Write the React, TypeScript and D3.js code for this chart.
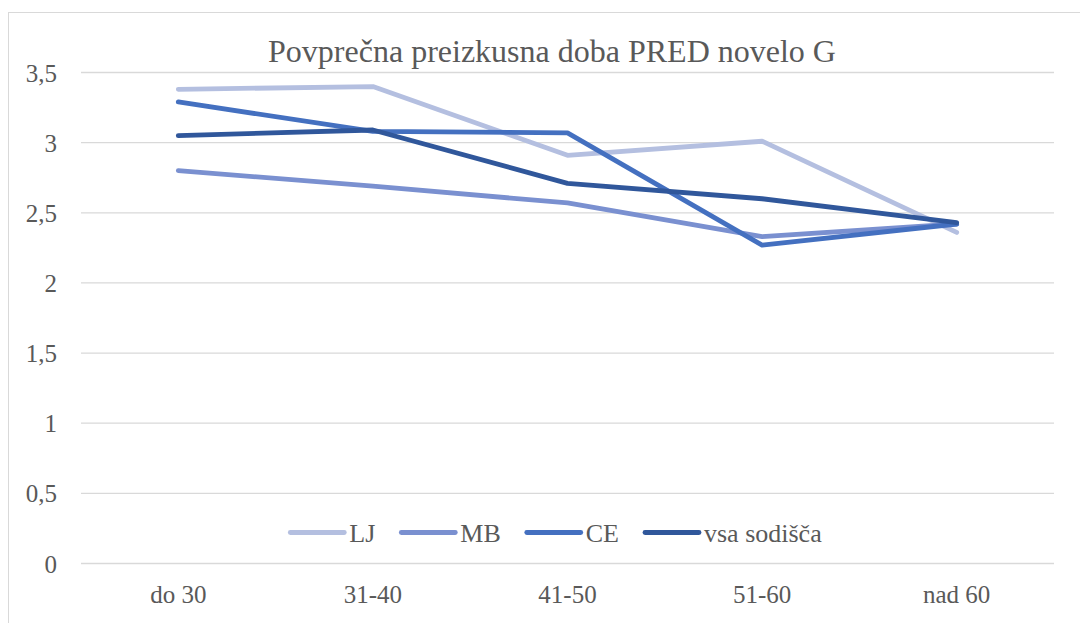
import React, { useEffect, useRef } from "react";
import * as d3 from "d3";

const categories = ["do 30", "31-40", "41-50", "51-60", "nad 60"];
const seriesNames = ["LJ", "MB", "CE", "vsa sodišča"];
const ljValues = [3.38, 3.4, 2.91, 3.01, 2.36];
const mbValues = [2.8, 2.69, 2.57, 2.33, 2.42];
const ceValues = [3.29, 3.08, 3.07, 2.27, 2.42];
const allValues = [3.05, 3.09, 2.71, 2.6, 2.43];
const yTicks = [0, 0.5, 1, 1.5, 2, 2.5, 3, 3.5];
const title = "Povprečna preizkusna doba PRED novelo G";

const colors = ["#b4bfe0", "#7a90d0", "#4470c0", "#30579b"];
const FONT = "Liberation Serif";
const TEXT = "#595959";

export default function App() {
  const ref = useRef<SVGSVGElement>(null);

  useEffect(() => {
    const svg = d3.select(ref.current);
    svg.selectAll("*").remove();

    const left = 81, right = 1054, top = 72.5, bottom = 563.5;

    const x = d3.scalePoint<string>().domain(categories).range([left, right]).padding(0.5);
    const y = d3.scaleLinear().domain([0, 3.5]).range([bottom, top]);

    // chart border
    svg.append("rect")
      .attr("x", 8.5).attr("y", 12.5).attr("width", 1090).attr("height", 640)
      .attr("fill", "#fff").attr("stroke", "#d9d9d9").attr("stroke-width", 1);

    // gridlines
    svg.append("g").selectAll("line").data(yTicks).join("line")
      .attr("x1", left).attr("x2", right)
      .attr("y1", d => y(d)).attr("y2", d => y(d))
      .attr("stroke", "#d9d9d9").attr("stroke-width", 1.3);

    // y labels
    svg.append("g").selectAll("text").data(yTicks).join("text")
      .attr("x", 57).attr("y", d => y(d) + 9)
      .attr("text-anchor", "end")
      .style("font-family", FONT).style("font-size", "25px").attr("fill", TEXT)
      .text(d => String(d).replace(".", ","));

    // x labels
    svg.append("g").selectAll("text").data(categories).join("text")
      .attr("x", d => x(d)!).attr("y", 603)
      .attr("text-anchor", "middle")
      .style("font-family", FONT).style("font-size", "25px").attr("fill", TEXT)
      .text(d => d);

    // title
    svg.append("text")
      .attr("x", 552).attr("y", 62)
      .attr("text-anchor", "middle")
      .style("font-family", FONT).style("font-size", "32px").attr("fill", TEXT)
      .text(title);

    // lines
    const series = [ljValues, mbValues, ceValues, allValues];
    const line = d3.line<number>()
      .x((_, i) => x(categories[i])!)
      .y(d => y(d));

    series.forEach((vals, i) => {
      svg.append("path")
        .datum(vals)
        .attr("d", line)
        .attr("fill", "none")
        .attr("stroke", colors[i])
        .attr("stroke-width", 4.8)
        .attr("stroke-linecap", "round")
        .attr("stroke-linejoin", "round");
    });

    // legend
    const lg = svg.append("g");
    const items = seriesNames.map((name, i) => {
      const g = lg.append("g");
      g.append("line")
        .attr("x1", 0).attr("x2", 54).attr("y1", 0).attr("y2", 0)
        .attr("stroke", colors[i]).attr("stroke-width", 4.8).attr("stroke-linecap", "round");
      const t = g.append("text")
        .attr("x", 59).attr("y", 9)
        .style("font-family", FONT).style("font-size", "26px").attr("fill", TEXT)
        .text(name);
      const w = 59 + (t.node() as SVGTextElement).getComputedTextLength();
      return { g, w };
    });
    const gap = 26;
    const total = d3.sum(items, d => d.w) + gap * (items.length - 1);
    let cx = 556 - total / 2;
    items.forEach(it => {
      it.g.attr("transform", `translate(${cx},532.5)`);
      cx += it.w + gap;
    });
  }, []);

  return (
    <svg
      ref={ref}
      width={1080}
      height={623}
      style={{ position: "absolute", left: 0, top: 0, background: "#fff" }}
    />
  );
}
